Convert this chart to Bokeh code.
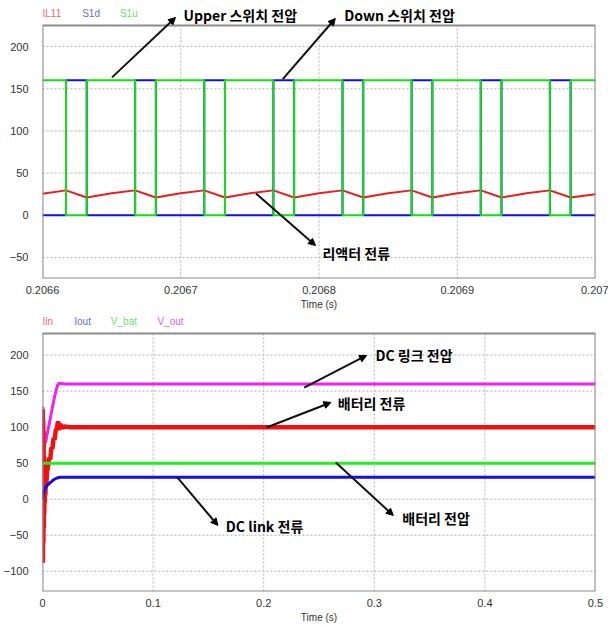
from bokeh.plotting import figure
from bokeh.models import Range1d, FixedTicker, Label, Arrow, NormalHead
from bokeh.layouts import column
from bokeh.embed import file_html
from bokeh.resources import INLINE

# ---------------- data: top chart (switching detail) ----------------
top_x_ticks = [0.2066, 0.2067, 0.2068, 0.2069, 0.2070]
top_x_labels = ["0.2066", "0.2067", "0.2068", "0.2069", "0.207"]
top_y_ticks = [-50, 0, 50, 100, 150, 200]
top_y_lim = [-75, 225]

# times where S1u switches off (S1d on) and back on
sw_off = [0.206617, 0.206667, 0.206717, 0.206767, 0.206817, 0.206867, 0.206917, 0.206967]
sw_on = [0.206632, 0.206682, 0.206732, 0.206782, 0.206832, 0.206882, 0.206932, 0.206982]
sw_high = 160
sw_low = 0

il11_t = [0.2066, 0.206617, 0.206632, 0.206650, 0.206667, 0.206682, 0.206700, 0.206717,
          0.206732, 0.206750, 0.206767, 0.206782, 0.206800, 0.206817, 0.206832, 0.206850,
          0.206867, 0.206882, 0.206900, 0.206917, 0.206932, 0.206950, 0.206967, 0.206982, 0.2070]
il11_v = [25.5, 29.5, 21.0, 26.0, 29.5, 21.0, 26.0, 29.5,
          21.0, 26.0, 29.5, 21.0, 26.0, 29.5, 21.0, 26.0,
          29.5, 21.0, 26.0, 29.5, 21.0, 26.0, 29.5, 21.0, 25.0]

# ---------------- data: bottom chart (start-up) ----------------
bot_x_ticks = [0.0, 0.1, 0.2, 0.3, 0.4, 0.5]
bot_x_labels = ["0", "0.1", "0.2", "0.3", "0.4", "0.5"]
bot_y_ticks = [-100, -50, 0, 50, 100, 150, 200]
bot_y_lim = [-128, 230]

iin_t = [0, 0.0002, 0.0004, 0.0006, 0.0008, 0.001, 0.0012, 0.0014, 0.0016, 0.0018, 0.002,
         0.0023, 0.0026, 0.003, 0.0035, 0.004, 0.005, 0.006, 0.007, 0.008, 0.009, 0.010,
         0.011, 0.012, 0.013, 0.014, 0.015, 0.016, 0.018, 0.020, 0.025, 0.5]
iin_v = [0, 125, -88, 110, -60, 80, -40, 60, -20, 45, -5,
         35, 5, 30, 20, 38, 45, 58, 55, 72, 70, 85,
         83, 96, 98, 108, 96, 104, 99, 101, 100, 100]

iout_t = [0, 0.0008, 0.002, 0.004, 0.007, 0.010, 0.013, 0.016, 0.5]
iout_v = [0, 10, 14, 19, 23, 27, 29.5, 30.5, 30.5]

vbat_t = [0.0, 0.5]
vbat_v = [50, 50]

vout_t = [0, 0.0003, 0.0006, 0.0009, 0.0012, 0.0016, 0.002, 0.003, 0.005, 0.008,
          0.011, 0.0135, 0.015, 0.02, 0.5]
vout_v = [50, 128, 55, 115, 60, 95, 78, 80, 96, 120,
          143, 158, 161, 160, 160]

KFONT = "Noto Sans CJK KR"
AFONT = "Liberation Sans"


def style(p, xticks, xlabels, yticks, ylim):
    p.xaxis.ticker = FixedTicker(ticks=xticks)
    p.yaxis.ticker = FixedTicker(ticks=yticks)
    p.xaxis.major_label_overrides = {t: l for t, l in zip(xticks, xlabels)}
    for ax in (p.xaxis, p.yaxis):
        ax.axis_line_color = None
        ax.major_tick_line_color = None
        ax.minor_tick_line_color = None
        ax.major_label_text_font = AFONT
        ax.major_label_text_font_size = "11px"
        ax.major_label_text_color = "#333333"
    p.xaxis.major_label_standoff = 1
    p.yaxis.major_label_standoff = 8
    p.xaxis.axis_label = "Time (s)"
    p.xaxis.axis_label_text_font = AFONT
    p.xaxis.axis_label_text_font_size = "10px"
    p.xaxis.axis_label_text_font_style = "normal"
    p.xaxis.axis_label_text_color = "#333333"
    p.xaxis.axis_label_standoff = 2
    p.xgrid.visible = False
    p.ygrid.visible = False
    p.outline_line_color = None
    p.background_fill_color = "white"
    p.border_fill_color = "white"
    x0, x1 = xticks[0], xticks[-1]
    y0, y1 = ylim
    # dotted grid inside the plotting box
    p.segment(x0=xticks, y0=[y0] * len(xticks), x1=xticks, y1=[y1] * len(xticks),
              line_color="#b0b0b0", line_dash="2 2", line_width=1)
    p.segment(x0=[x0] * len(yticks), y0=yticks, x1=[x1] * len(yticks), y1=yticks,
              line_color="#b0b0b0", line_dash="2 2", line_width=1)


def box(p, xticks, ylim):
    p.quad(left=[xticks[0]], right=[xticks[-1]], bottom=[ylim[0]], top=[ylim[1]],
           fill_color=None, line_color="#8c8c8c", line_width=2)


def note(p, x, y, text):
    p.add_layout(Label(x=x, y=y, text=text, text_font=KFONT, text_font_style="bold",
                       text_font_size="14px", text_color="black",
                       text_baseline="middle", text_align="left"))


def arrow(p, x0, y0, x1, y1):
    p.add_layout(Arrow(end=NormalHead(size=7, fill_color="black", line_color="black"),
                       x_start=x0, y_start=y0, x_end=x1, y_end=y1,
                       line_color="#111111", line_width=2))


def legend_text(p, x, y, text, color):
    p.add_layout(Label(x=x, y=y, text=text, text_font=AFONT, text_font_size="10px",
                       text_color=color, text_baseline="middle", text_align="left"))


# ---------------- top figure ----------------
top = figure(width=608, height=312, output_backend="svg", toolbar_location=None,
             x_range=Range1d(top_x_ticks[0], top_x_ticks[-1]), y_range=Range1d(top_y_lim[0], 252.3),
             min_border_left=38, min_border_right=13, min_border_top=2, min_border_bottom=34)
style(top, top_x_ticks, top_x_labels, top_y_ticks, top_y_lim)

t0, t1 = top_x_ticks[0], top_x_ticks[-1]
s1u_x, s1u_y = [t0], [sw_high]
s1d_x, s1d_y = [t0], [sw_low]
for a, b in zip(sw_off, sw_on):
    s1u_x += [a, a, b, b]
    s1u_y += [sw_high, sw_low, sw_low, sw_high]
    s1d_x += [a, a, b, b]
    s1d_y += [sw_low, sw_high, sw_high, sw_low]
s1u_x.append(t1); s1u_y.append(sw_high)
s1d_x.append(t1); s1d_y.append(sw_low)

top.line(il11_t, il11_v, line_color="#ee1c1c", line_width=2)
top.line(s1d_x, s1d_y, line_color="#1010ee", line_width=2)
top.line(s1u_x, s1u_y, line_color="#10e010", line_width=2)
box(top, top_x_ticks, top_y_lim)

legend_text(top, 0.2066, 239.2, "IL11", "#f06a6a")
legend_text(top, 0.2066287, 239.2, "S1d", "#6a6ae8")
legend_text(top, 0.2066560, 239.2, "S1u", "#6ae06a")

arrow(top, 0.2066503, 163.5, 0.2066962, 234.5)
note(top, 0.2067020, 236.9, "Upper 스위치  전압")
arrow(top, 0.2067738, 161.5, 0.2068118, 233.3)
note(top, 0.2068183, 236.9, "Down 스위치  전압")
arrow(top, 0.2067544, 25.8, 0.2067975, -35.9)
note(top, 0.2068025, -44.2, "리액터 전류")

# ---------------- bottom figure ----------------
bot = figure(width=608, height=313, output_backend="svg", toolbar_location=None,
             x_range=Range1d(bot_x_ticks[0], bot_x_ticks[-1]), y_range=Range1d(bot_y_lim[0], 259.1),
             min_border_left=41, min_border_right=9, min_border_top=0, min_border_bottom=34)
style(bot, bot_x_ticks, bot_x_labels, bot_y_ticks, bot_y_lim)

bot.line(vout_t, vout_v, line_color="#f020f0", line_width=3)
bot.line(iin_t, iin_v, line_color="#f01010", line_width=4.5)
bot.line(vbat_t, vbat_v, line_color="#22ee22", line_width=3)
bot.line(iout_t, iout_v, line_color="#1010e8", line_width=3)
box(bot, bot_x_ticks, bot_y_lim)

legend_text(bot, 0.0, 246.7, "Iin", "#f06a6a")
legend_text(bot, 0.0287, 246.7, "Iout", "#6a6ae8")
legend_text(bot, 0.0618, 246.7, "V_bat", "#6ae06a")
legend_text(bot, 0.1039, 246.7, "V_out", "#e060e0")

arrow(bot, 0.2366, 155, 0.2930, 199.5)
note(bot, 0.3011, 199.5, "DC 링크  전압")
arrow(bot, 0.2025, 99.6, 0.2608, 134.3)
note(bot, 0.2670, 132.9, "배터리 전류")
arrow(bot, 0.1219, 30.2, 0.1586, -36.4)
note(bot, 0.1658, -37.8, "DC link 전류")
arrow(bot, 0.2652, 51, 0.3172, -22.5)
note(bot, 0.3253, -26.7, "배터리 전압")

layout = column(top, bot, spacing=0)
open("out.html", "w").write(file_html(layout, INLINE))
